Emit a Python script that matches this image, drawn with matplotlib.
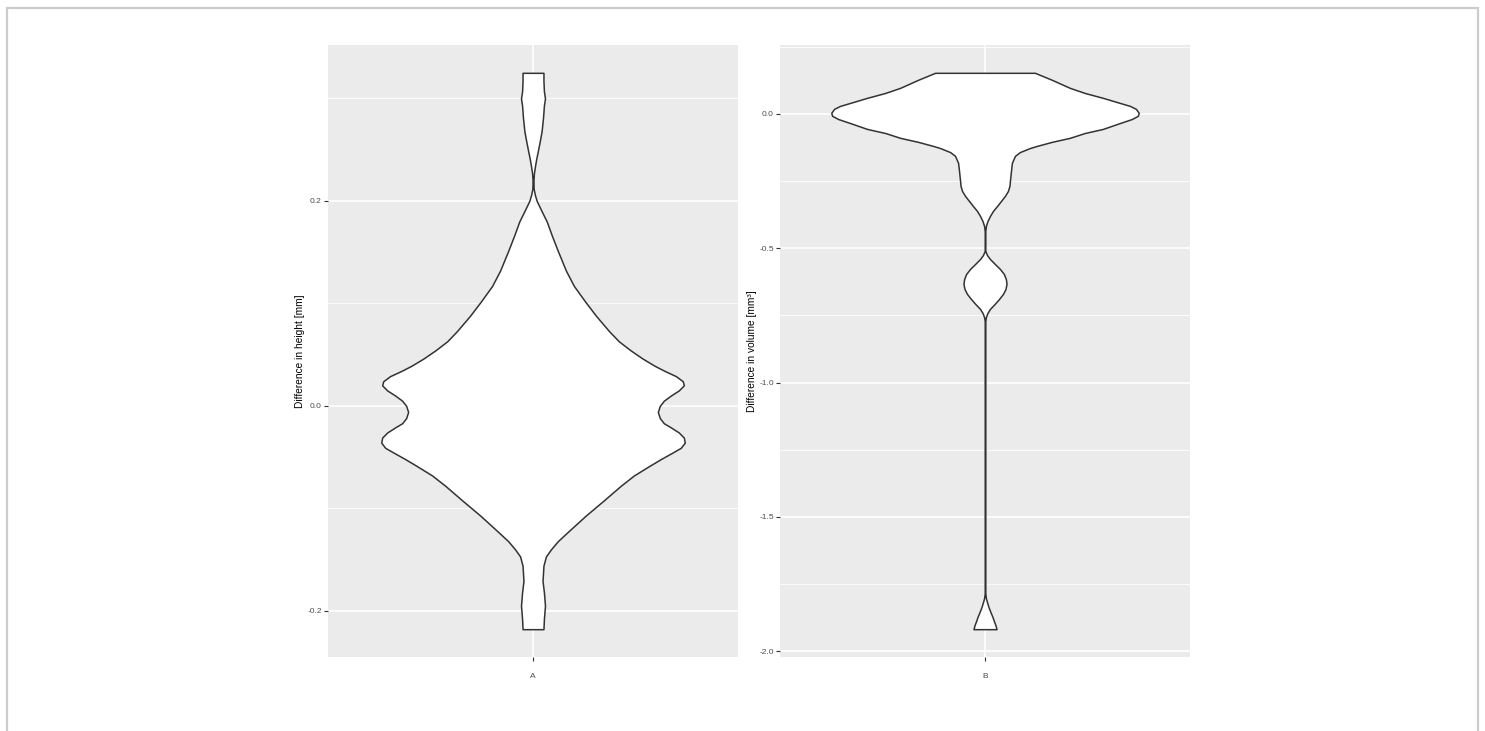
import numpy as np
import matplotlib
matplotlib.use("Agg")
import matplotlib.pyplot as plt
from matplotlib.patches import Rectangle
from matplotlib.ticker import MultipleLocator

plt.rcParams['font.family'] = ['Liberation Sans', 'DejaVu Sans']

# violin outlines: y value and relative half-width (1 = widest violin)
a_y = [0.325, 0.317, 0.307, 0.300, 0.293, 0.281, 0.268, 0.259, 0.249, 0.241,
       0.234, 0.227, 0.220, 0.212, 0.206, 0.200, 0.190, 0.180, 0.166, 0.151,
       0.132, 0.117, 0.102, 0.088, 0.073, 0.063, 0.054, 0.046, 0.039, 0.034,
       0.029, 0.024, 0.020, 0.015, 0.010, 0.005, 0.000, -0.006, -0.012, -0.017,
       -0.021, -0.026, -0.031, -0.036, -0.041, -0.046, -0.052, -0.059, -0.068,
       -0.078, -0.093, -0.107, -0.122, -0.132, -0.140, -0.147, -0.156, -0.171,
       -0.182, -0.195, -0.208, -0.218]
a_w = [0.068, 0.068, 0.071, 0.078, 0.071, 0.065, 0.056, 0.045, 0.032, 0.021,
       0.013, 0.006, 0.003, 0.004, 0.012, 0.024, 0.056, 0.089, 0.123, 0.162,
       0.214, 0.266, 0.338, 0.409, 0.494, 0.558, 0.636, 0.714, 0.792, 0.857,
       0.929, 0.974, 0.981, 0.948, 0.896, 0.851, 0.825, 0.812, 0.825, 0.851,
       0.896, 0.948, 0.981, 0.987, 0.961, 0.903, 0.831, 0.753, 0.656,
       0.571, 0.455, 0.344, 0.234, 0.162, 0.117, 0.084, 0.068, 0.062,
       0.071, 0.078, 0.071, 0.068]

b_y = [0.153, 0.127, 0.097, 0.078, 0.060, 0.041, 0.030, 0.019, 0.004, -0.007,
       -0.019, -0.034, -0.056, -0.071, -0.089, -0.104, -0.119, -0.127, -0.142,
       -0.156, -0.182, -0.212, -0.250, -0.268, -0.287, -0.305, -0.324, -0.343,
       -0.361, -0.380, -0.399, -0.417, -0.436, -0.510, -0.525, -0.540, -0.559,
       -0.577, -0.596, -0.615, -0.633, -0.652, -0.670, -0.689, -0.708, -0.726,
       -0.741, -0.756, -0.771, -1.784, -1.803, -1.817, -1.836, -1.855, -1.873,
       -1.888, -1.903, -1.918]
b_w = [0.325, 0.435, 0.552, 0.649, 0.766, 0.877, 0.942, 0.981, 1.000, 0.994,
       0.955, 0.877, 0.766, 0.649, 0.552, 0.435, 0.338, 0.292, 0.227,
       0.195, 0.175, 0.169, 0.162, 0.159, 0.149, 0.130, 0.104, 0.078,
       0.052, 0.032, 0.016, 0.006, 0.002, 0.002, 0.013, 0.032, 0.065,
       0.097, 0.123, 0.136, 0.140, 0.133, 0.117, 0.091, 0.062, 0.032,
       0.016, 0.006, 0.002, 0.002, 0.006, 0.013, 0.023, 0.036, 0.049,
       0.058, 0.068, 0.075]

groups = ['A', 'B']
ylabels = ['Difference in height [mm]', 'Difference in volume [mm\u00b3]']
major_steps = [0.2, 0.5]

W, H = 1485, 731
fig = plt.figure(figsize=(W / 100, H / 100), dpi=100)

# light frame round the whole figure
fig.patches.append(Rectangle((6.5 / W, -0.05), (1478 - 6.5) / W, 1.05 - 8 / H,
                             transform=fig.transFigure, fill=False,
                             edgecolor='#cccccc', linewidth=1.6))

panels = [(a_y, a_w), (b_y, b_w)]
lefts = [328, 780]

for i, (yy, ww) in enumerate(panels):
    ax = fig.add_axes([lefts[i] / W, (H - 657) / H, 410 / W, 612 / H])
    ax.set_facecolor('#ebebeb')
    for s in ax.spines.values():
        s.set_visible(False)

    yy = np.array(yy)
    half = 0.45 * np.array(ww)
    ax.fill_betweenx(yy, 1 - half, 1 + half, facecolor='white',
                     edgecolor='#333333', linewidth=1.1, zorder=3,
                     joinstyle='round')

    lo, hi = yy.min(), yy.max()
    pad = 0.05 * (hi - lo)
    ax.set_ylim(lo - pad, hi + pad)
    ax.set_xlim(0.4, 1.6)

    step = major_steps[i]
    ax.yaxis.set_major_locator(MultipleLocator(step))
    ax.yaxis.set_minor_locator(MultipleLocator(step / 2))
    ax.yaxis.set_major_formatter(plt.FuncFormatter(lambda v, p: f'{v:.1f}'.replace('-0.0', '0.0')))
    ax.set_xticks([1])
    ax.set_xticklabels([groups[i]])

    ax.grid(which='major', color='white', linewidth=1.2, zorder=0)
    ax.grid(which='minor', axis='y', color='white', linewidth=0.6, zorder=0)
    ax.set_axisbelow(True)

    ax.tick_params(which='major', length=3, width=0.8, color='#333333',
                   labelcolor='#4d4d4d', labelsize=6)
    ax.tick_params(axis='y', pad=1.5)
    ax.tick_params(axis='x', pad=8.5)
    ax.tick_params(which='minor', length=0)

    ax.set_ylabel(ylabels[i], fontsize=7.3, color='black')
    ax.yaxis.set_label_coords(-23 / 410, 0.5)

fig.savefig('out.png', dpi=100)
